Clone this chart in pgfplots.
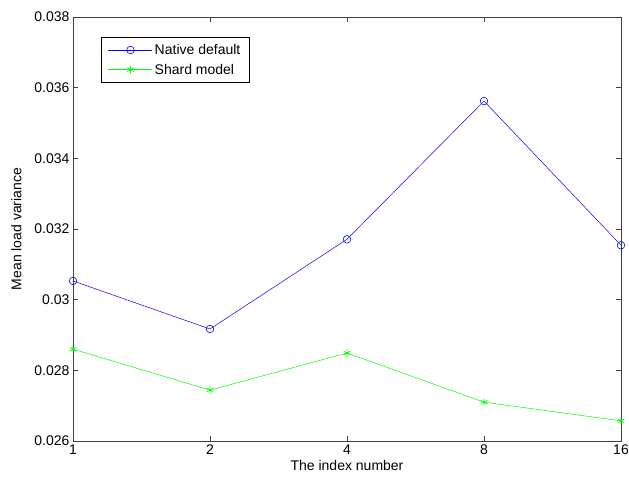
\documentclass[border=0pt]{standalone}
\usepackage{pgfplots}
\pgfplotsset{compat=1.18}
\usepackage{fontspec}
\setmainfont{Liberation Sans}
\begin{document}
\begin{tikzpicture}[x=1pt,y=1pt]
\path[use as bounding box] (-73,-41) rectangle (556,441);
\begin{axis}[
  at={(0,0)}, anchor=south west,
  scale only axis, width=548pt, height=424pt,
  xmin=0, xmax=4, ymin=0.026, ymax=0.038,
  xtick={0,1,2,3,4}, xticklabels={1,2,4,8,16},
  ytick={0.026,0.028,0.03,0.032,0.034,0.036,0.038},
  scaled y ticks=false,
  yticklabel style={/pgf/number format/fixed,/pgf/number format/precision=3},
  /pgf/number format/assume math mode=true,
  tick align=inside, tick pos=both,
  major tick length=5pt,
  axis line style={black!75, line width=0.6pt},
  tick style={black!75, line width=0.6pt},
  font=\fontsize{14}{16}\selectfont,
  xlabel={The index number}, ylabel={Mean load variance},
  xlabel style={yshift=1pt},
  ylabel style={yshift=6pt},
  legend style={at={(axis description cs:0.051,0.953)}, anchor=north west,
    draw=black, line width=0.6pt, font=\fontsize{14}{16}\selectfont,
    inner xsep=7pt, inner ysep=5pt, row sep=4pt, cells={anchor=west}},
  legend image code/.code={
    \draw[mark repeat=2,mark phase=2] plot coordinates {(0pt,0pt)(22pt,0pt)(44pt,0pt)};
  },
]
\addplot[blue, line width=0.5pt, mark=o, mark size=3.8pt, mark options={line width=0.6pt}]
  coordinates {(0,0.03053) (1,0.02917) (2,0.03171) (3,0.03562) (4,0.03154)};
\addlegendentry{Native default}
\addplot[green, line width=0.5pt, mark=asterisk, mark size=3.8pt, mark options={line width=0.7pt}]
  coordinates {(0,0.02860) (1,0.02744) (2,0.02849) (3,0.02710) (4,0.02657)};
\addlegendentry{Shard model}
\end{axis}
\end{tikzpicture}
\end{document}
